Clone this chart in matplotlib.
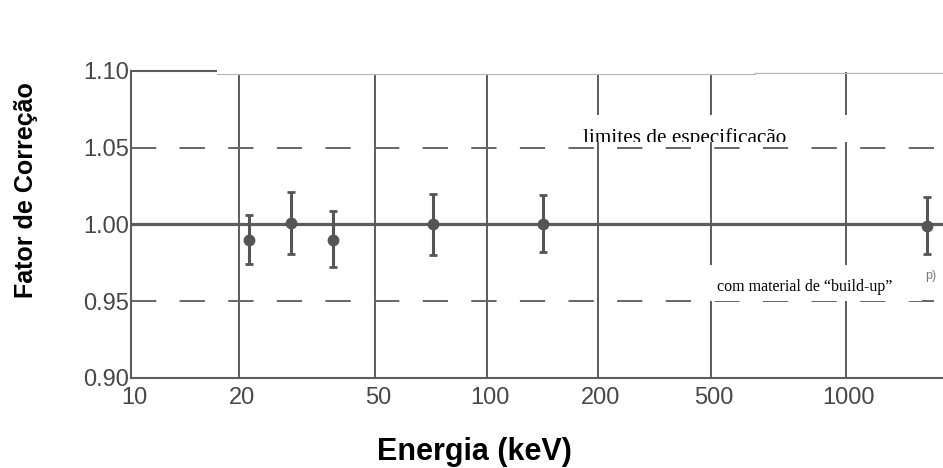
import numpy as np
import matplotlib
matplotlib.use('Agg')
from matplotlib import pyplot as plt
from matplotlib.patches import Rectangle
from matplotlib.lines import Line2D
from matplotlib.ticker import NullLocator
from matplotlib.transforms import ScaledTranslation

# values
energia = [21.4, 28.4, 37.7, 71.6, 142, 1690]  # keV
fator = [0.990, 1.001, 0.990, 1.000, 1.000, 0.999]
erro_inf = [0.016, 0.020, 0.018, 0.020, 0.018, 0.018]
erro_sup = [0.016, 0.020, 0.019, 0.020, 0.019, 0.019]

tick_energia = [10, 20, 50, 100, 200, 500, 1000]
tick_labels = ['10', '20', '50', '100', '200', '500', '1000']
ytick_vals = [0.90, 0.95, 1.00, 1.05, 1.10]
ytick_labels = ['0.90', '0.95', '1.00', '1.05', '1.10']
referencia = 1.00
limites = [0.95, 1.05]

# the printed energy axis is roughly logarithmic but unevenly drawn,
# so the scale follows where each tick sits in the scan (pixels)
tick_pos = [131, 239, 375, 487, 598, 711, 846]
px_decada = 357
lt_ext = np.concatenate(([np.log10(tick_energia[0]) - 3], np.log10(tick_energia),
                         [np.log10(tick_energia[-1]) + 3]))
pos_ext = np.concatenate(([tick_pos[0] - 3 * px_decada], tick_pos,
                          [tick_pos[-1] + 3 * px_decada]))


def fwd(x):
    return np.interp(np.log10(np.clip(x, 1e-3, None)), lt_ext, pos_ext)


def inv(p):
    return 10 ** np.interp(p, pos_ext, lt_ext)


plt.rcParams['font.family'] = ['Liberation Sans', 'DejaVu Sans']

W, H = 943, 468
fig = plt.figure(figsize=(W / 100, H / 100), dpi=100)


def fx(px):
    return px / W


def fy(py):
    return 1 - py / H


ax = fig.add_axes([fx(131), fy(378), fx(943) - fx(131), (378 - 70.7) / H])
ax.set_xscale('function', functions=(fwd, inv))
ax.set_xlim(10, 1870)
ax.set_ylim(0.90, 1.10)

linha = '#5c5c5c'
ax.set_xticks(tick_energia)
ax.set_xticklabels(tick_labels)
ax.xaxis.set_minor_locator(NullLocator())
ax.set_yticks(ytick_vals)
ax.set_yticklabels(ytick_labels)
ax.xaxis.grid(True, color=linha, lw=1.4)
ax.tick_params(length=0, labelsize=17, labelcolor='#474747')
ax.tick_params(axis='x', pad=6.5)
ax.tick_params(axis='y', pad=1.5)
# printed numbers sit a little right of their grid lines
off = ScaledTranslation(3 / 100, 0, fig.dpi_scale_trans)
for lab in ax.get_xticklabels():
    lab.set_transform(lab.get_transform() + off)

for s in ['left', 'bottom', 'top']:
    ax.spines[s].set_color(linha)
    ax.spines[s].set_linewidth(1.5)
ax.spines['right'].set_visible(False)

ax.axhline(referencia, color=linha, lw=2.3, zorder=2)
for lim in limites:
    ax.axhline(lim, color='#666666', lw=1.4, ls=(0, (13, 12)), zorder=2)

ax.errorbar(energia, fator, yerr=[erro_inf, erro_sup], fmt='o', color='#555555',
            ms=7.5, elinewidth=2.2, capsize=3, capthick=2, zorder=3)


# white paste-over boxes of the scanned page
def caixa(x0, y0, x1, y1):
    r = Rectangle((fx(x0), fy(y1)), fx(x1) - fx(x0), fy(y0) - fy(y1),
                  transform=fig.transFigure, facecolor='white', edgecolor='none', zorder=5)
    fig.add_artist(r)
    return r


caixa(217, 0, 755, 73.5)
caixa(755, 0, 943, 71.8)
fig.add_artist(Line2D([fx(217), fx(755)], [fy(74.3)] * 2, transform=fig.transFigure,
                      color='#b5b5b5', lw=0.8, zorder=6))
fig.add_artist(Line2D([fx(755), fx(943)], [fy(72.5)] * 2, transform=fig.transFigure,
                      color='#b5b5b5', lw=0.8, zorder=6))

c1 = caixa(563, 115, 943, 142)
t1 = fig.text(fx(583), fy(143), 'limites de especificação', family='Liberation Serif',
              fontsize=15.3, va='baseline', zorder=6)
t1.set_clip_path(c1)

caixa(697, 265, 922, 300.5)
fig.text(fx(717), fy(291), 'com material de “build-up”', family='Liberation Serif',
         fontsize=11.5, va='baseline', zorder=6)
fig.text(fx(925), fy(279), 'p)', fontsize=9, color='#777777', va='baseline', zorder=6)

fig.text(fx(26), fy(190), 'Fator de Correção', rotation=90, fontsize=18,
         fontweight='bold', ha='center', va='center')
fig.text(fx(474), fy(460), 'Energia (keV)', fontsize=22, fontweight='bold',
         ha='center', va='baseline')

fig.savefig('out.png', dpi=100)
